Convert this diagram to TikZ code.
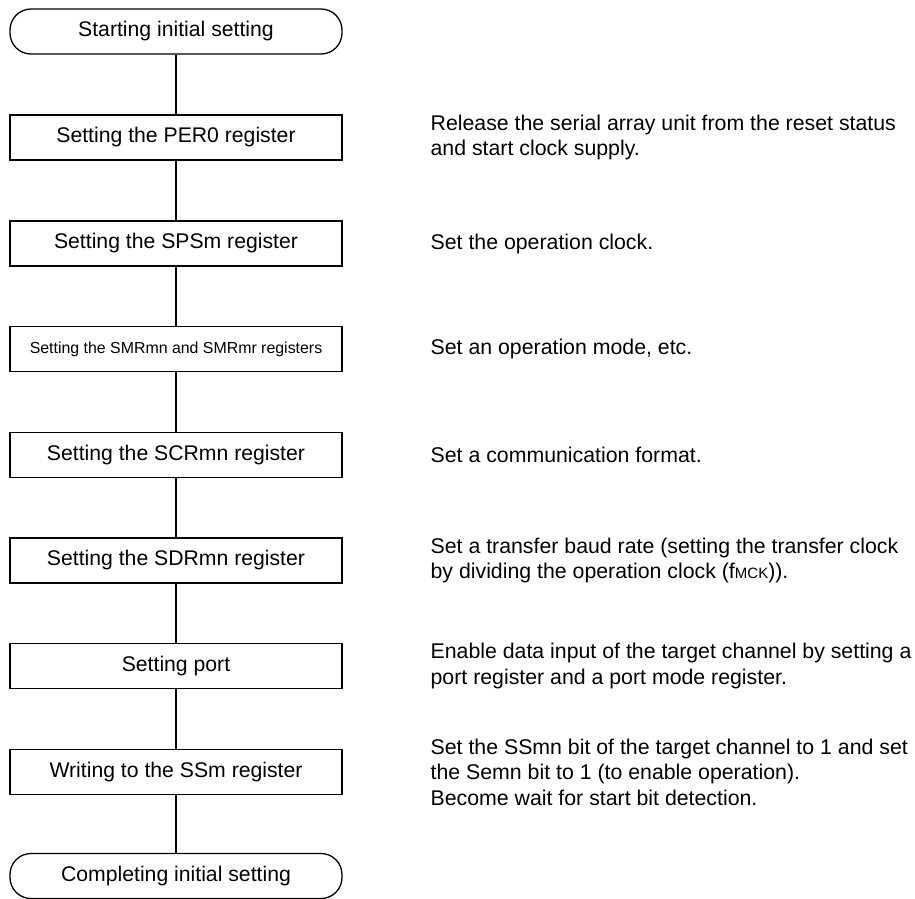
\documentclass[tikz,border=0pt]{standalone}
\usepackage{fontspec}
\setmainfont{Liberation Sans}
\begin{document}
\begin{tikzpicture}[x=1pt,y=-1pt,line width=1.3pt,
  stepbox/.style={draw,minimum width=332pt,minimum height=45pt,inner sep=0pt,font=\fontsize{21.2}{25}\selectfont},
  smallbox/.style={stepbox,font=\fontsize{15.9}{20}\selectfont},
  termbox/.style={stepbox,minimum height=45pt,rounded corners=21pt},
  note/.style={anchor=west,align=left,inner sep=0pt,font=\fontsize{21.3}{25.5}\selectfont}]
\useasboundingbox (0,0) rectangle (915,898);
\node[termbox] (s0) at (176,31.5) {Starting initial setting};
\node[stepbox] (s1) at (176,137.5) {Setting the PER0 register};
\node[stepbox] (s2) at (176,243.5) {Setting the SPSm register};
\node[smallbox] (s3) at (176,349) {Setting the SMRmn and SMRmr registers};
\node[stepbox] (s4) at (176,455) {Setting the SCRmn register};
\node[stepbox] (s5) at (176,560.5) {Setting the SDRmn register};
\node[stepbox] (s6) at (176,666) {Setting port};
\node[stepbox] (s7) at (176,772) {Writing to the SSm register};
\node[termbox] (s8) at (176,876) {Completing initial setting};
\draw (s0) -- (s1) -- (s2) -- (s3) -- (s4) -- (s5) -- (s6) -- (s7) -- (s8);
\node[note] (n1) at (430,137.5) {Release the serial array unit from the reset status\\and start clock supply.};
\node[note] (n2) at (430,243.5) {Set the operation clock.};
\node[note] (n3) at (430,349) {Set an operation mode, etc.};
\node[note] (n4) at (430,455) {Set a communication format.};
\node[note] (n5) at (430,560.5) {Set a transfer baud rate (setting the transfer clock\\by dividing the operation clock (f{\fontsize{15}{15}\selectfont MCK})).};
\node[note] (n6) at (430,666) {Enable data input of the target channel by setting a\\port register and a port mode register.};
\node[note] (n7) at (430,772) {Set the SSmn bit of the target channel to 1 and set\\the Semn bit to 1 (to enable operation).\\Become wait for start bit detection.};
\end{tikzpicture}
\end{document}
